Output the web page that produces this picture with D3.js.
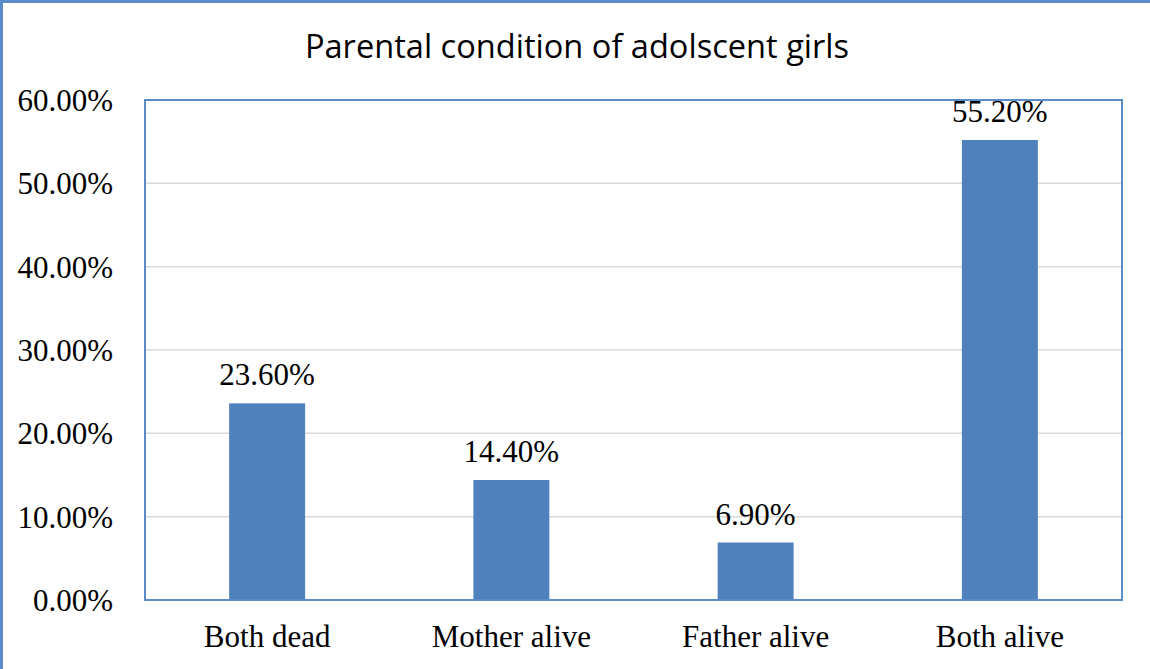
<!DOCTYPE html>
<html>
<head>
<meta charset="utf-8">
<script src="https://cdn.jsdelivr.net/npm/d3@7"></script>
<style>
html,body{margin:0;padding:0;background:#fff;}
svg{display:block;}
</style>
</head>
<body>
<svg id="chart" width="1150" height="669"></svg>
<script>
const categories = ["Both dead", "Mother alive", "Father alive", "Both alive"];
const values = [23.6, 14.4, 6.9, 55.2];
const yTicks = [0, 10, 20, 30, 40, 50, 60];
const title = "Parental condition of adolscent girls";

const svg = d3.select("#chart");
const W = 1150, H = 669;
const m = {left: 145, right: 1122, top: 100, bottom: 600};
const serif = "'Liberation Serif', 'Times New Roman', serif";

// outer chart border (left & top visible)
svg.append("rect").attr("x", 1.5).attr("y", 1.5).attr("width", W + 10).attr("height", H + 10)
  .attr("fill", "#fff").attr("stroke", "#5B8BC9").attr("stroke-width", 3);

const x = d3.scaleBand().domain(categories).range([m.left, m.right]).paddingInner(0.689).paddingOuter(0.3445);
const y = d3.scaleLinear().domain([0, 60]).range([m.bottom, m.top]);

// gridlines
svg.append("g").selectAll("line").data(yTicks.filter(t => t > 0 && t < 60)).join("line")
  .attr("x1", m.left).attr("x2", m.right)
  .attr("y1", d => y(d)).attr("y2", d => y(d))
  .attr("stroke", "#D9D9D9").attr("stroke-width", 1.5);

// bars
svg.append("g").selectAll("rect").data(values).join("rect")
  .attr("x", (d, i) => x(categories[i]))
  .attr("width", x.bandwidth())
  .attr("y", d => y(d))
  .attr("height", d => y(0) - y(d))
  .attr("fill", "#4F81BD");

// plot border
svg.append("rect").attr("x", m.left).attr("y", m.top)
  .attr("width", m.right - m.left).attr("height", m.bottom - m.top)
  .attr("fill", "none").attr("stroke", "#5B8BC9").attr("stroke-width", 2);

// y axis labels
const yAxis = d3.axisLeft(y).tickValues(yTicks).tickSize(0).tickPadding(32)
  .tickFormat(d => d3.format(".2f")(d) + "%");
const ga = svg.append("g").attr("transform", `translate(${m.left},0)`).call(yAxis);
ga.select(".domain").remove();
ga.selectAll("text").attr("font-family", serif)
  .attr("font-size", 31).attr("fill", "#000").attr("dy", "0.34em");

// x axis labels
const xAxis = d3.axisBottom(x).tickSize(0).tickPadding(25);
const gx = svg.append("g").attr("transform", `translate(0,${m.bottom})`).call(xAxis);
gx.select(".domain").remove();
gx.selectAll("text").attr("font-family", serif)
  .attr("font-size", 31).attr("fill", "#000").attr("dy", "0.71em");

// data labels
svg.append("g").selectAll("text").data(values).join("text")
  .attr("x", (d, i) => x(categories[i]) + x.bandwidth() / 2)
  .attr("y", d => y(d) - 18)
  .attr("text-anchor", "middle")
  .attr("font-family", serif)
  .attr("font-size", 31).attr("fill", "#000")
  .text(d => d3.format(".2f")(d) + "%");

// title
svg.append("text").attr("x", 577).attr("y", 58).attr("text-anchor", "middle")
  .attr("font-family", "'Open Sans', 'Noto Sans', sans-serif")
  .attr("font-size", 32.6).attr("fill", "#000")
  .text(title);
</script>
</body>
</html>
